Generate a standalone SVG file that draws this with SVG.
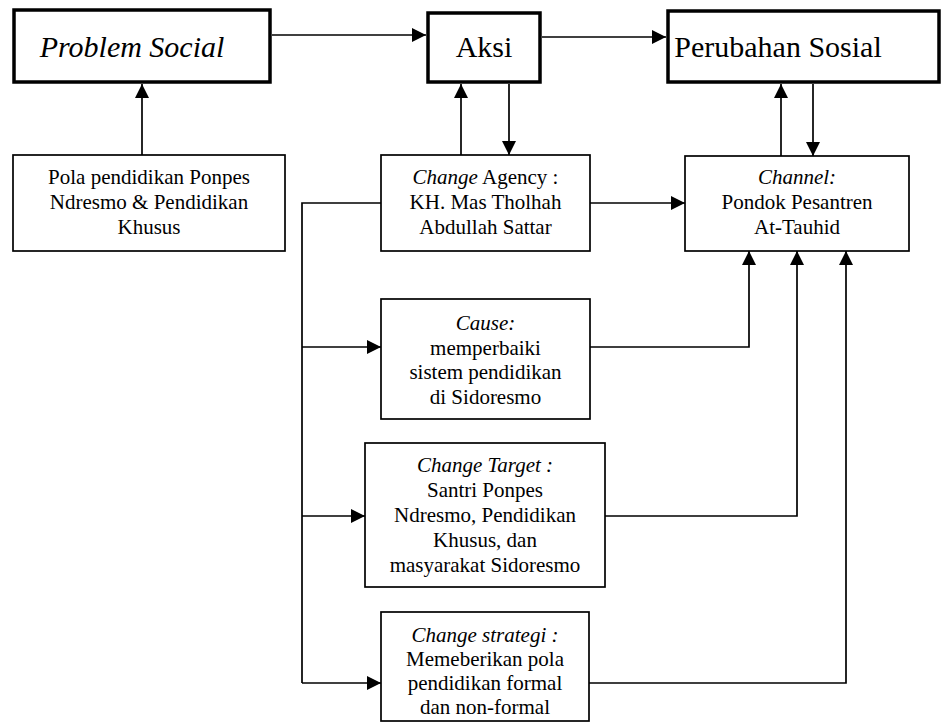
<svg xmlns="http://www.w3.org/2000/svg" width="948" height="728" viewBox="0 0 948 728">
<style>
.thick{fill:#fff;stroke:#000;stroke-width:3.5}
.thin{fill:#fff;stroke:#000;stroke-width:1.7}
.big{font-size:30px;fill:#000;text-anchor:middle}
.sm{font-size:21px;fill:#000;text-anchor:middle}
.it{font-style:italic}
.ln{fill:none;stroke:#000;stroke-width:1.7}
</style>
<defs>
<marker id="ah" markerUnits="userSpaceOnUse" markerWidth="15" markerHeight="15" refX="14" refY="7" orient="auto">
<path d="M0,0 L14,7 L0,14 z" fill="#000"/>
</marker>
</defs>
<g id="connectors">
<line class="ln" x1="142" y1="155" x2="142" y2="84" marker-end="url(#ah)"/>
<line class="ln" x1="272" y1="35" x2="426" y2="35" marker-end="url(#ah)"/>
<line class="ln" x1="542" y1="37" x2="666" y2="37" marker-end="url(#ah)"/>
<line class="ln" x1="461" y1="155" x2="461" y2="84" marker-end="url(#ah)"/>
<line class="ln" x1="509" y1="84" x2="509" y2="155" marker-end="url(#ah)"/>
<line class="ln" x1="781" y1="156" x2="781" y2="84" marker-end="url(#ah)"/>
<line class="ln" x1="813" y1="84" x2="813" y2="156" marker-end="url(#ah)"/>
<line class="ln" x1="590" y1="203" x2="685" y2="203" marker-end="url(#ah)"/>
<polyline class="ln" points="381,203 302,203 302,683"/>
<line class="ln" x1="302" y1="347" x2="381" y2="347" marker-end="url(#ah)"/>
<line class="ln" x1="302" y1="516" x2="365" y2="516" marker-end="url(#ah)"/>
<line class="ln" x1="302" y1="683" x2="381" y2="683" marker-end="url(#ah)"/>
<polyline class="ln" points="590,347 749,347 749,251" marker-end="url(#ah)"/>
<polyline class="ln" points="605,516 797,516 797,251" marker-end="url(#ah)"/>
<polyline class="ln" points="589,683 846,683 846,251" marker-end="url(#ah)"/>
</g>
<g font-family="'Liberation Serif', 'DejaVu Serif', serif">
<g id="problem-social">
<rect class="thick" x="14" y="10" width="256" height="72"/>
<text class="big it" x="132" y="57" font-size="32">Problem Social</text>
</g>
<g id="aksi">
<rect class="thick" x="428" y="13" width="112" height="69"/>
<text class="big" x="484" y="57">Aksi</text>
</g>
<g id="perubahan-sosial">
<rect class="thick" x="668" y="11" width="271" height="71"/>
<text class="big" x="778" y="57">Perubahan Sosial</text>
</g>
<g id="pola">
<rect class="thin" x="13" y="155" width="272" height="96"/>
<text class="sm" x="149" y="184">Pola pendidikan Ponpes</text>
<text class="sm" x="149" y="209">Ndresmo &amp; Pendidikan</text>
<text class="sm" x="149" y="234">Khusus</text>
</g>
<g id="change-agency">
<rect class="thin" x="381" y="155" width="209" height="96"/>
<text class="sm" x="485.5" y="184"><tspan class="it">Change</tspan> Agency :</text>
<text class="sm" x="485.5" y="209">KH. Mas Tholhah</text>
<text class="sm" x="485.5" y="234">Abdullah Sattar</text>
</g>
<g id="channel">
<rect class="thin" x="685" y="156" width="224" height="95"/>
<text class="sm it" x="797" y="184">Channel:</text>
<text class="sm" x="797" y="209">Pondok Pesantren</text>
<text class="sm" x="797" y="234">At-Tauhid</text>
</g>
<g id="cause">
<rect class="thin" x="381" y="299" width="209" height="120"/>
<text class="sm it" x="485.5" y="330">Cause:</text>
<text class="sm" x="485.5" y="355">memperbaiki</text>
<text class="sm" x="485.5" y="379">sistem pendidikan</text>
<text class="sm" x="485.5" y="404">di Sidoresmo</text>
</g>
<g id="change-target">
<rect class="thin" x="365" y="443" width="240" height="144"/>
<text class="sm it" x="485" y="472">Change Target :</text>
<text class="sm" x="485" y="497">Santri Ponpes</text>
<text class="sm" x="485" y="522">Ndresmo, Pendidikan</text>
<text class="sm" x="485" y="547">Khusus, dan</text>
<text class="sm" x="485" y="572">masyarakat Sidoresmo</text>
</g>
<g id="change-strategi">
<rect class="thin" x="381" y="612" width="208" height="109"/>
<text class="sm it" x="485" y="642">Change strategi :</text>
<text class="sm" x="485" y="666">Memeberikan pola</text>
<text class="sm" x="485" y="690">pendidikan formal</text>
<text class="sm" x="485" y="714">dan non-formal</text>
</g>
</g>
</svg>
